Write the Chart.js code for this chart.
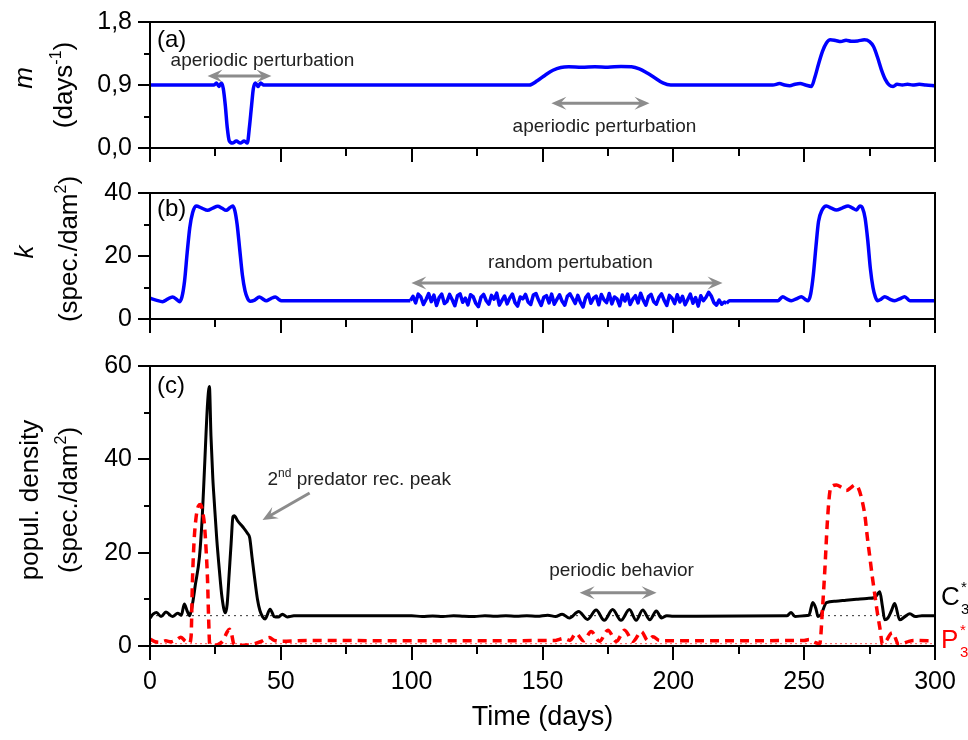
<!DOCTYPE html>
<html>
<head>
<meta charset="utf-8">
<title>m, k and population density over time</title>
<script src="https://cdn.jsdelivr.net/npm/chart.js@4.4.1/dist/chart.umd.min.js"></script>
<style>
  body { margin: 0; background: #fff; width: 968px; height: 740px; position: relative; overflow: hidden; }
  canvas { position: absolute; left: 0; }
</style>
</head>
<body>
<canvas id="panelA" width="968" height="170" style="top:0px"></canvas>
<canvas id="panelB" width="968" height="170" style="top:170px"></canvas>
<canvas id="panelC" width="968" height="400" style="top:340px"></canvas>
<script>
// ---------- data ----------
const dayTicks = [0, 50, 100, 150, 200, 250, 300];
const mTicks = [0, 0.9, 1.8];
const mTickLabels = ['0,0', '0,9', '1,8'];
const kTicks = [0, 20, 40];
const kTickLabels = ['0', '20', '40'];
const popTicks = [0, 20, 40, 60];
const popTickLabels = ['0', '20', '40', '60'];

// (a) m, days^-1
const mDays = [0, 24.5, 25.4, 26.3, 27.3, 28.0, 28.8, 29.5, 30.3, 31.5, 33, 34.5, 36, 37.2, 38, 38.8, 39.5, 40.3, 41.3, 42.3, 43.3,
  145, 148, 151, 154, 157, 160, 165, 170, 175, 180, 184, 187, 190, 193, 196, 199,
  238, 240.6, 242.5, 244.5, 246.5, 248.5, 250.5, 252.8, 254, 255.5, 257, 258.5, 260, 262, 264, 266, 268, 270.5, 273,
  275, 276.5, 278, 279.5, 281, 282.5, 284, 285.5, 287.5, 289.5, 291.5, 294, 296.5, 300];
const mVals = [0.9, 0.9, 0.93, 0.88, 0.93, 0.85, 0.6, 0.3, 0.1, 0.07, 0.1, 0.07, 0.1, 0.07, 0.3, 0.6, 0.85, 0.93, 0.88, 0.93, 0.9,
  0.9, 0.96, 1.04, 1.11, 1.15, 1.16, 1.155, 1.16, 1.155, 1.165, 1.16, 1.13, 1.07, 1.0, 0.93, 0.9,
  0.9, 0.92, 0.9, 0.89, 0.91, 0.92, 0.9, 0.88, 1.0, 1.2, 1.38, 1.5, 1.545, 1.535, 1.52, 1.54, 1.525, 1.53, 1.545,
  1.52, 1.45, 1.3, 1.12, 0.98, 0.9, 0.88, 0.91, 0.9, 0.91, 0.9, 0.91, 0.9, 0.89];

// (b) k, spec./dam^2
const kDaysA = [0, 2.3, 4.8, 6.7, 8.6, 10.2, 11.2, 12.2, 13.2, 14.2, 15.2, 16.3, 17.6, 19.8, 22, 24, 25.9, 27.5, 29.1, 30.5,
  31.6, 32.4, 33.3, 34.3, 35.3, 36.3, 37.3, 38.3, 40, 41.8, 43.2, 44.4, 46.2, 47.9, 49.2, 50.2, 60, 99.5];
const kValsA = [6.6, 6.0, 5.5, 6.3, 7.0, 6.2, 5.5, 7.0, 12, 21, 29, 33.8, 35.9, 35.2, 34.5, 35.2, 35.8, 35.2, 34.5, 35.3,
  35.9, 34.5, 30, 22, 14, 9, 6.5, 5.6, 6.0, 7.0, 6.3, 5.8, 6.5, 7.0, 6.2, 5.8, 5.8, 5.8];
// random perturbation stretch, one reading per day from day 100.5
const kNoiseStart = 100.5;
const kNoiseStep = 1;
const kNoiseVals = [7.2, 5.1, 7.9, 7.0, 4.6, 6.2, 8.1, 5.5, 7.6, 4.3,
  6.8, 7.9, 4.9, 5.6, 7.8, 6.1, 4.2, 7.4, 8.0, 5.3,
  6.6, 4.5, 7.7, 7.1, 5.0, 3.9, 6.9, 7.8, 5.8, 4.7,
  7.5, 6.3, 8.2, 4.4, 5.9, 7.3, 4.8, 6.7, 7.9, 5.2,
  4.1, 7.0, 6.4, 7.8, 5.4, 4.6, 7.6, 8.1, 6.0, 4.3,
  6.9, 7.4, 5.1, 7.9, 4.7, 6.2, 7.7, 5.6, 4.4, 7.2,
  8.0, 6.5, 4.9, 7.5, 5.3, 3.8, 6.8, 7.9, 5.0, 6.6,
  7.3, 4.5, 7.8, 6.1, 5.2, 8.1, 4.8, 7.0, 6.4, 4.2,
  7.6, 5.7, 7.9, 4.6, 6.3, 7.4, 5.1, 8.2, 6.0, 4.4,
  7.1, 7.8, 5.5, 4.7, 6.9, 8.0, 5.9, 4.3, 7.5, 6.6,
  4.9, 7.7, 5.4, 7.2, 4.5, 6.2, 7.9, 5.0, 6.8, 4.1,
  7.4, 5.8, 6.9, 8.5, 7.3, 5.2, 4.4, 6.0, 4.7, 5.4];
const kDaysB = [220.4, 221.5, 240, 241.8, 243.5, 245.1, 247, 248.9, 250.3, 251.5, 252.5, 253.5, 254.5, 255.5, 256.8,
  258.5, 260.4, 262.3, 264.5, 266.8, 268.5, 270, 271.3, 272.3, 273.3, 274.3, 275.3, 276.3, 277.2, 278.1,
  279.4, 280.8, 282.7, 284.6, 286.5, 288.4, 290.4, 300];
const kValsB = [5.0, 5.8, 5.8, 7.1, 6.3, 5.8, 6.4, 7.1, 6.3, 5.8, 8, 14, 23, 31, 34.5,
  35.9, 35.2, 34.6, 35.2, 35.9, 35.2, 34.6, 35.9, 35.2, 32, 25, 16, 10, 7, 5.8,
  6.3, 7.1, 6.3, 5.8, 6.4, 7.1, 5.8, 5.8];

// (c) C3* (black) and P3* (red), spec./dam^2
const cDays = [0, 1.3, 2.5, 4.2, 6.1, 8.6, 10.6, 12, 13.1, 14.2, 15.2, 16.3, 17.3, 18.9, 20, 20.8, 22, 22.7, 23.3, 24,
  24.6, 25.5, 26.5, 27.5, 28.8, 29.5, 30.2, 31, 31.7, 32.2, 33.5, 35.5, 37.3, 38.1, 39, 39.9, 41.1, 42, 43, 44,
  45.9, 47.5, 49, 50.6, 52.5, 55, 60, 100, 104, 108, 112, 116, 120, 124, 128, 132, 136, 140, 144, 148,
  152, 155, 157.5, 160.3, 163.8, 167.2, 170.5, 173.6, 176.8, 180, 183.2, 185.8, 188.3, 191, 193.5, 195.5, 197.5, 200,
  243.5, 245, 246.5, 250, 251.8, 253.3, 254.5, 255.3, 256.5, 258.5, 262, 266, 270, 274, 277, 278.9, 279.9,
  280.8, 282, 283.3, 284.6, 286.5, 288.5, 290.4, 292.5, 295, 300];
const cVals = [6.0, 6.9, 7.2, 6.3, 7.3, 6.3, 7.0, 6.6, 9.0, 7.5, 6.5, 9.2, 13, 19.1, 28, 37.7, 52, 55.6, 45, 36,
  30.6, 23, 16.3, 10.5, 7.1, 9.0, 15, 22, 27.7, 27.9, 26.8, 25.5, 24.1, 23.2, 19, 14.9, 9.9, 7.6, 6.3, 5.8,
  7.9, 6.3, 6.2, 6.8, 6.2, 6.5, 6.5, 6.5, 6.3, 6.45, 6.3, 6.5, 6.35, 6.3, 6.5, 6.35, 6.5, 6.4, 6.5, 6.35,
  6.6, 6.3, 6.8, 6.0, 7.4, 5.7, 7.7, 5.5, 7.8, 5.5, 7.8, 5.5, 7.7, 5.6, 7.5, 6.0, 6.5, 6.4,
  6.5, 7.2, 6.3, 6.5, 6.6, 9.3, 8.0, 6.3, 6.8, 9.3, 9.6, 9.8, 10.0, 10.2, 10.4, 11.6, 8.5,
  5.6, 6.0, 7.5, 9.1, 5.6, 6.3, 6.9, 6.3, 6.5, 6.5];
const pDays = [0, 2, 4, 6, 8, 10, 11.8, 13.5, 15, 15.7, 16.2, 16.8, 17.6, 18.5, 19.3, 20.2, 20.8, 21.5, 22, 22.4,
  22.8, 24, 26, 28, 29.3, 30.3, 31.2, 32, 34, 37, 40, 43, 45.6, 47.5, 50, 60, 100, 155, 158, 160.5,
  162.8, 165.7, 168.6, 171.8, 175, 178.2, 181.4, 184.6, 187.8, 190.2, 192.2, 194.5, 197, 200, 250,
  252, 254, 255.5, 256, 257, 257.9, 258.8, 259.8, 260.8, 262.3, 264.2, 266.1, 268, 269.3, 270.6,
  272, 273.2, 274.2, 275, 276, 277, 278, 278.9, 280, 281.5, 283, 284, 285, 286, 288, 290, 292, 300];
const pVals = [1.5, 0.9, 0.8, 1.1, 0.9, 1.3, 1.9, 1.0, 0.6, 2, 13.5, 22, 27.5, 30, 30.3, 28.5, 26, 20, 14, 6,
  0.5, 0.1, 0.3, 1.2, 2.8, 3.6, 2.5, 0.5, 0.1, 0.2, 0.5, 1.1, 1.8, 1.2, 1.0, 1.2, 1.1, 1.2, 1.6, 1.2,
  2.7, 1.1, 3.1, 1.0, 3.4, 1.0, 3.4, 1.0, 3.1, 1.2, 2.0, 1.2, 1.1, 1.1, 1.2,
  1.4, 0.8, 0.5, 0.6, 8, 16.3, 26, 33, 34.3, 34.5, 34, 33.3, 34, 34.5, 34,
  31.5, 28, 23, 19.5, 15, 11, 7, 4, 0.3, 1.2, 2.6, 2.8, 1.5, 0.3, 0.6, 1.0, 1.2, 1.1];
// dotted steady-state levels
const cLevel = 6.5;
const pLevel = 0.5;

// ---------- drawing ----------
const FONT = 'Arial, "Liberation Sans", Helvetica, sans-serif';
const BLUE = '#0000ff';
const RED = '#ff0000';
const GRAY = '#8c8c8c';

function pts(days, vals) {
  return days.map((d, i) => ({ x: d, y: vals[i] }));
}

/** draws a row of text pieces: [text, size, dy, style] */
function rich(ctx, parts, x, y, align) {
  let w = 0;
  parts.forEach(p => { ctx.font = `${p[3] || ''} ${p[1]}px ${FONT}`; w += ctx.measureText(p[0]).width; });
  let cx = align === 'center' ? x - w / 2 : x;
  ctx.textAlign = 'left';
  ctx.textBaseline = 'alphabetic';
  parts.forEach(p => {
    ctx.font = `${p[3] || ''} ${p[1]}px ${FONT}`;
    ctx.fillText(p[0], cx, y + (p[2] || 0));
    cx += ctx.measureText(p[0]).width;
  });
}

function vTitle(ctx, parts, x, y) {
  ctx.save();
  ctx.translate(x, y);
  ctx.rotate(-Math.PI / 2);
  ctx.fillStyle = '#000';
  rich(ctx, parts, 0, 0, 'center');
  ctx.restore();
}

function head(ctx, x, y, ang) {
  const L = 15, W = 6.5;
  const c = Math.cos(ang), s = Math.sin(ang);
  ctx.beginPath();
  ctx.moveTo(x, y);
  ctx.lineTo(x - L * c - W * s, y - L * s + W * c);
  ctx.lineTo(x - L * 0.6 * c, y - L * 0.6 * s);
  ctx.lineTo(x - L * c + W * s, y - L * s - W * c);
  ctx.closePath();
  ctx.fill();
}

function arrow(ctx, x1, y1, x2, y2, both) {
  const ang = Math.atan2(y2 - y1, x2 - x1);
  ctx.save();
  ctx.strokeStyle = GRAY;
  ctx.fillStyle = GRAY;
  ctx.lineWidth = 3;
  const c = Math.cos(ang) * 8, s = Math.sin(ang) * 8;
  ctx.beginPath();
  ctx.moveTo(both ? x1 + c : x1, both ? y1 + s : y1);
  ctx.lineTo(x2 - c, y2 - s);
  ctx.stroke();
  head(ctx, x2, y2, ang);
  if (both) head(ctx, x1, y1, ang + Math.PI);
  ctx.restore();
}

function note(ctx, text, x, y) {
  ctx.font = `19px ${FONT}`;
  ctx.fillStyle = '#222';
  ctx.textAlign = 'center';
  ctx.textBaseline = 'middle';
  ctx.fillText(text, x, y);
}

function panelLabel(ctx, text, x, y) {
  ctx.font = `24px ${FONT}`;
  ctx.fillStyle = '#000';
  ctx.textAlign = 'left';
  ctx.textBaseline = 'middle';
  ctx.fillText(text, x, y);
}

// frame, outward major/minor ticks, titles and notes
function deco(c) {
  return {
    id: 'deco',
    afterDraw(chart) {
      const { ctx, chartArea: a, scales: { x, y } } = chart;
      ctx.save();
      ctx.strokeStyle = '#000';
      ctx.lineWidth = 2;
      ctx.strokeRect(a.left, a.top, a.right - a.left, a.bottom - a.top);
      ctx.beginPath();
      dayTicks.forEach((v, i) => {
        const px = Math.round(x.getPixelForValue(v));
        ctx.moveTo(px, a.bottom); ctx.lineTo(px, a.bottom + 14);
        if (i < dayTicks.length - 1) {
          const mx = Math.round(x.getPixelForValue((v + dayTicks[i + 1]) / 2));
          ctx.moveTo(mx, a.bottom); ctx.lineTo(mx, a.bottom + 8);
        }
      });
      c.yTicks.forEach((v, i) => {
        const py = Math.round(y.getPixelForValue(v));
        ctx.moveTo(a.left, py); ctx.lineTo(a.left - 12, py);
        if (i < c.yTicks.length - 1) {
          const my = Math.round(y.getPixelForValue((v + c.yTicks[i + 1]) / 2));
          ctx.moveTo(a.left, my); ctx.lineTo(a.left - 6, my);
        }
      });
      ctx.stroke();
      c.extra(ctx, chart, v => x.getPixelForValue(v), v => y.getPixelForValue(v), a);
      ctx.restore();
    }
  };
}

function makeChart(id, c) {
  return new Chart(document.getElementById(id), {
    type: 'line',
    data: { datasets: c.datasets },
    options: {
      responsive: false,
      animation: false,
      devicePixelRatio: 1,
      layout: { padding: { left: 0, right: 33, top: c.top, bottom: 0 } },
      plugins: { legend: { display: false }, tooltip: { enabled: false } },
      elements: { point: { radius: 0 }, line: { cubicInterpolationMode: 'monotone' } },
      scales: {
        x: {
          type: 'linear', min: 0, max: 300,
          grid: { display: false, drawTicks: false },
          border: { display: false },
          afterBuildTicks: s => { s.ticks = dayTicks.map(v => ({ value: v })); },
          afterFit: s => { s.height = c.xh; s.paddingLeft = 0; s.paddingRight = 0; },
          ticks: { display: !!c.xTitle, padding: 21, color: '#000', maxRotation: 0, autoSkip: false,
                   font: { family: FONT, size: 25 } },
          title: c.xTitle
            ? { display: true, text: c.xTitle, color: '#000', font: { family: FONT, size: 27 }, padding: { top: 0, bottom: 6 } }
            : { display: false }
        },
        y: {
          type: 'linear', min: c.yTicks[0], max: c.yTicks[c.yTicks.length - 1],
          grid: { display: false, drawTicks: false },
          border: { display: false },
          afterBuildTicks: s => { s.ticks = c.yTicks.map(v => ({ value: v })); },
          afterFit: s => { s.width = 150; s.paddingTop = 0; s.paddingBottom = 0; },
          ticks: { padding: 18, color: '#000', autoSkip: false, font: { family: FONT, size: 25 },
                   callback: (v, i) => c.yLabels[i] }
        }
      }
    },
    plugins: [deco(c)]
  });
}

// (a)
makeChart('panelA', {
  top: 22, xh: 22, yTicks: mTicks, yLabels: mTickLabels,
  datasets: [{ data: pts(mDays, mVals), borderColor: BLUE, borderWidth: 3.5, fill: false }],
  extra(ctx, chart, px, py, a) {
    panelLabel(ctx, '(a)', a.left + 7, py(1.54));
    note(ctx, 'aperiodic perturbation', px(43), py(1.24));
    arrow(ctx, px(22), py(1.03), px(46.4), py(1.03), true);
    arrow(ctx, px(153.4), py(0.64), px(190.9), py(0.64), true);
    note(ctx, 'aperiodic perturbation', px(173.7), py(0.31));
    vTitle(ctx, [['m', 26, 0, 'italic']], 32, 78);
    vTitle(ctx, [['(days', 26], ['-1', 16, -11], [')', 26]], 72, 85);
  }
});

// (b) smooth parts plus a jagged (straight-segment) random stretch
const kNoiseDays = kNoiseVals.map((v, i) => kNoiseStart + i * kNoiseStep);
const kSmoothA = pts(kDaysA, kValsA);
const kSmoothB = pts(kDaysB, kValsB);
makeChart('panelB', {
  top: 23, xh: 21, yTicks: kTicks, yLabels: kTickLabels,
  datasets: [
    { data: kSmoothA, borderColor: BLUE, borderWidth: 3.5, fill: false },
    { data: [kSmoothA[kSmoothA.length - 1]].concat(pts(kNoiseDays, kNoiseVals), [kSmoothB[0]]),
      borderColor: BLUE, borderWidth: 3.5, fill: false, cubicInterpolationMode: 'default', tension: 0,
      borderJoinStyle: 'round' },
    { data: kSmoothB, borderColor: BLUE, borderWidth: 3.5, fill: false }
  ],
  extra(ctx, chart, px, py, a) {
    panelLabel(ctx, '(b)', a.left + 7, py(34.9));
    note(ctx, 'random pertubation', px(160.7), py(17.8));
    arrow(ctx, px(99.9), py(11.4), px(218.8), py(11.4), true);
    vTitle(ctx, [['k', 26, 0, 'italic']], 33, 82);
    vTitle(ctx, [['(spec./dam', 26], ['2', 16, -11], [')', 26]], 77, 79);
  }
});

// (c)
makeChart('panelC', {
  top: 26, xh: 94, yTicks: popTicks, yLabels: popTickLabels, xTitle: 'Time (days)',
  datasets: [
    { data: pts(pDays, pVals), borderColor: RED, borderWidth: 3.5, borderDash: [9, 6], fill: false },
    { data: pts(cDays, cVals), borderColor: '#000', borderWidth: 3, fill: false },
    { data: pts([0, 300], [cLevel, cLevel]), borderColor: '#333', borderWidth: 1, borderDash: [2, 4], fill: false },
    { data: pts([0, 300], [pLevel, pLevel]), borderColor: '#f55', borderWidth: 1, borderDash: [2, 3], fill: false }
  ],
  extra(ctx, chart, px, py, a) {
    panelLabel(ctx, '(c)', a.left + 7, py(55.7));
    ctx.fillStyle = '#222';
    rich(ctx, [['2', 19], ['nd', 12, -8], [' predator rec. peak', 19]], px(44.9), py(36) + 7, 'left');
    arrow(ctx, px(61), py(32.8), px(43), py(27), false);
    note(ctx, 'periodic behavior', px(180.2), py(16.2));
    arrow(ctx, px(164.2), py(11.4), px(193.6), py(11.4), true);
    // end labels
    const lx = a.right + 6;
    ctx.fillStyle = '#000';
    rich(ctx, [['C', 26]], lx, py(8.8), 'left');
    rich(ctx, [['*', 15]], lx + 20, py(8.8) - 13, 'left');
    rich(ctx, [['3', 15]], lx + 20, py(8.8) + 9, 'left');
    ctx.fillStyle = RED;
    rich(ctx, [['P', 26]], lx, py(-0.4), 'left');
    rich(ctx, [['*', 15]], lx + 19, py(-0.4) - 13, 'left');
    rich(ctx, [['3', 15]], lx + 19, py(-0.4) + 9, 'left');
    vTitle(ctx, [['popul. density', 26]], 38, 160);
    vTitle(ctx, [['(spec./dam', 26], ['2', 16, -11], [')', 26]], 77, 160);
  }
});
</script>
</body>
</html>
